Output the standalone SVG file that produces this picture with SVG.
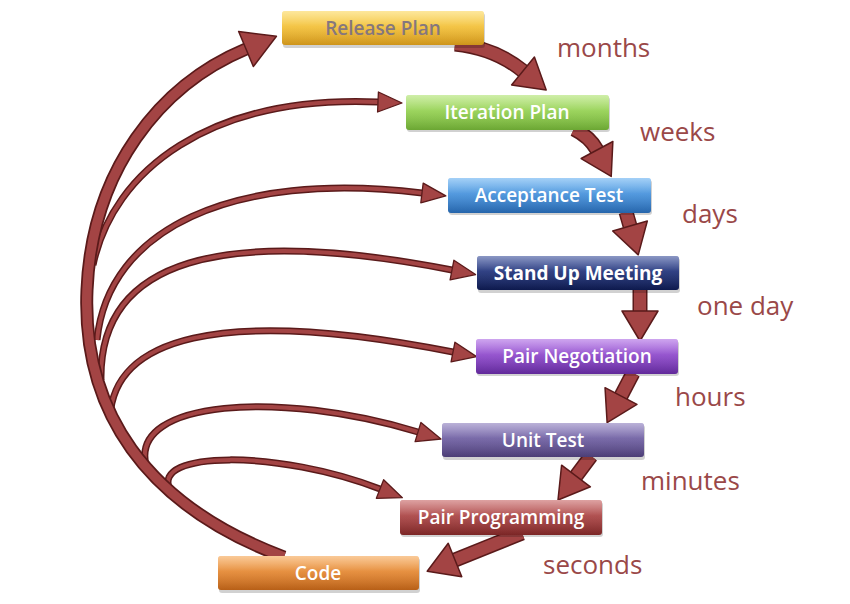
<svg xmlns="http://www.w3.org/2000/svg" width="850" height="604" viewBox="0 0 850 604">
<defs>
<style>
.lbl{font-family:"Open Sans","Liberation Sans",sans-serif;font-size:26px;fill:#9a4848}
.nt{font-family:"Open Sans","Liberation Sans",sans-serif;font-size:19px;font-weight:600;fill:#ffffff;text-anchor:middle}
.hl{fill:url(#hl)}
.sh{fill:#000;opacity:0.18}
.ol{fill:none;stroke:#5a1a1a;stroke-linecap:butt}
.fl{fill:none;stroke:#a34444;stroke-linecap:butt}
</style>
<linearGradient id="hl" x1="0" y1="0" x2="0" y2="1">
<stop offset="0" stop-color="#fff" stop-opacity="0.45"/>
<stop offset="0.45" stop-color="#fff" stop-opacity="0.08"/>
<stop offset="1" stop-color="#000" stop-opacity="0.12"/>
</linearGradient>
<linearGradient id="gY" x1="0" y1="0" x2="0" y2="1"><stop offset="0" stop-color="#fbd44c"/><stop offset="1" stop-color="#e9a81e"/></linearGradient>
<linearGradient id="gG" x1="0" y1="0" x2="0" y2="1"><stop offset="0" stop-color="#a8e062"/><stop offset="1" stop-color="#7abd3a"/></linearGradient>
<linearGradient id="gB" x1="0" y1="0" x2="0" y2="1"><stop offset="0" stop-color="#5aaaf0"/><stop offset="1" stop-color="#2a72c2"/></linearGradient>
<linearGradient id="gN" x1="0" y1="0" x2="0" y2="1"><stop offset="0" stop-color="#2c4294"/><stop offset="1" stop-color="#0f1d58"/></linearGradient>
<linearGradient id="gP" x1="0" y1="0" x2="0" y2="1"><stop offset="0" stop-color="#a65ce2"/><stop offset="1" stop-color="#6e2eae"/></linearGradient>
<linearGradient id="gU" x1="0" y1="0" x2="0" y2="1"><stop offset="0" stop-color="#8272b8"/><stop offset="1" stop-color="#564686"/></linearGradient>
<linearGradient id="gR" x1="0" y1="0" x2="0" y2="1"><stop offset="0" stop-color="#c25656"/><stop offset="1" stop-color="#8c2b2b"/></linearGradient>
<linearGradient id="gO" x1="0" y1="0" x2="0" y2="1"><stop offset="0" stop-color="#f59e44"/><stop offset="1" stop-color="#d06c1a"/></linearGradient>
<marker id="hBig" markerUnits="userSpaceOnUse" markerWidth="40" markerHeight="44" refX="1" refY="21" orient="auto" overflow="visible">
<path d="M1,2 L34,21 L1,40 Z" fill="#a34444" stroke="#5a1a1a" stroke-width="1.5" stroke-linejoin="round"/>
</marker>
<marker id="hChain" markerUnits="userSpaceOnUse" markerWidth="36" markerHeight="40" refX="1" refY="19" orient="auto" overflow="visible">
<path d="M1,1 L31,19 L1,37 Z" fill="#a34444" stroke="#5a1a1a" stroke-width="1.5" stroke-linejoin="round"/>
</marker>
<marker id="hThin" markerUnits="userSpaceOnUse" markerWidth="28" markerHeight="24" refX="1" refY="11" orient="auto" overflow="visible">
<path d="M1,1 L25,11 L1,21 Z" fill="#a34444" stroke="#5a1a1a" stroke-width="1.3" stroke-linejoin="round"/>
</marker>
</defs>
<rect width="850" height="604" fill="#ffffff"/>

<g id="connectors">
<path class="ol" stroke-width="7" d="M93,265 C113,170 210,95 378,102"/>
<path class="fl" stroke-width="4" d="M93,265 C113,170 210,95 378,102" marker-end="url(#hThin)"/>
<path class="ol" stroke-width="7" d="M97,340 C108,230 230,170 422,193"/>
<path class="fl" stroke-width="4" d="M97,340 C108,230 230,170 422,193" marker-end="url(#hThin)"/>
<path class="ol" stroke-width="7" d="M101,380 C99,260 220,225 452,270"/>
<path class="fl" stroke-width="4" d="M101,380 C99,260 220,225 452,270" marker-end="url(#hThin)"/>
<path class="ol" stroke-width="7" d="M110,418 C113,340 215,305 453,352"/>
<path class="fl" stroke-width="4" d="M110,418 C113,340 215,305 453,352" marker-end="url(#hThin)"/>
<path class="ol" stroke-width="7" d="M146,465 C130,400 280,390 418,432"/>
<path class="fl" stroke-width="4" d="M146,465 C130,400 280,390 418,432" marker-end="url(#hThin)"/>
<path class="ol" stroke-width="7" d="M170,490 C150,450 280,450 380,489"/>
<path class="fl" stroke-width="4" d="M170,490 C150,450 280,450 380,489" marker-end="url(#hThin)"/>
<path class="ol" stroke-width="13" d="M284,557 C145,505 82,410 87,290 C92,170 160,85 246,49"/>
<path class="fl" stroke-width="9.5" d="M284,557 C145,505 82,410 87,290 C92,170 160,85 246,49" marker-end="url(#hBig)"/>
<path class="ol" stroke-width="15" d="M455,44 Q495,48 523,71"/>
<path class="fl" stroke-width="12" d="M455,44 Q495,48 523,71" marker-end="url(#hChain)"/>
<path class="ol" stroke-width="15" d="M574,129 Q590,137 597,150"/>
<path class="fl" stroke-width="12" d="M574,129 Q590,137 597,150" marker-end="url(#hChain)"/>
<path class="ol" stroke-width="15" d="M626,212 L630,226"/>
<path class="fl" stroke-width="12" d="M626,212 L630,226" marker-end="url(#hChain)"/>
<path class="ol" stroke-width="15" d="M640,289 L640,311"/>
<path class="fl" stroke-width="12" d="M640,289 L640,311" marker-end="url(#hChain)"/>
<path class="ol" stroke-width="15" d="M633,373 L621,396"/>
<path class="fl" stroke-width="12" d="M633,373 L621,396" marker-end="url(#hChain)"/>
<path class="ol" stroke-width="15" d="M591,456 L576,476"/>
<path class="fl" stroke-width="12" d="M591,456 L576,476" marker-end="url(#hChain)"/>
<path class="ol" stroke-width="15" d="M522,533 Q487,547 455,560"/>
<path class="fl" stroke-width="12" d="M522,533 Q487,547 455,560" marker-end="url(#hChain)"/>
</g>

<g id="node-release-plan">
<rect class="sh" x="283" y="13" width="202" height="35" rx="3"/>
<rect x="282" y="11" width="202" height="34" rx="3" fill="url(#gY)"/>
<rect class="hl" x="282" y="11" width="202" height="34" rx="3"/>
<text class="nt" x="383" y="35" style="fill:#85777e">Release Plan</text>
</g>
<g id="node-iteration-plan">
<rect class="sh" x="407" y="97" width="203" height="35" rx="3"/>
<rect x="406" y="95" width="203" height="35" rx="3" fill="url(#gG)"/>
<rect class="hl" x="406" y="95" width="203" height="35" rx="3"/>
<text class="nt" x="507" y="119">Iteration Plan</text>
</g>
<g id="node-acceptance-test">
<rect class="sh" x="449" y="180" width="203" height="35" rx="3"/>
<rect x="448" y="178" width="203" height="35" rx="3" fill="url(#gB)"/>
<rect class="hl" x="448" y="178" width="203" height="35" rx="3"/>
<text class="nt" x="549" y="202">Acceptance Test</text>
</g>
<g id="node-stand-up-meeting">
<rect class="sh" x="478" y="258" width="202" height="35" rx="3"/>
<rect x="477" y="256" width="202" height="34" rx="3" fill="url(#gN)"/>
<rect class="hl" x="477" y="256" width="202" height="34" rx="3"/>
<text class="nt" x="578" y="280" style="font-weight:700">Stand Up Meeting</text>
</g>
<g id="node-pair-negotiation">
<rect class="sh" x="477" y="341" width="202" height="35" rx="3"/>
<rect x="476" y="339" width="202" height="35" rx="3" fill="url(#gP)"/>
<rect class="hl" x="476" y="339" width="202" height="35" rx="3"/>
<text class="nt" x="577" y="363">Pair Negotiation</text>
</g>
<g id="node-unit-test">
<rect class="sh" x="443" y="425" width="202" height="35" rx="3"/>
<rect x="442" y="423" width="202" height="34" rx="3" fill="url(#gU)"/>
<rect class="hl" x="442" y="423" width="202" height="34" rx="3"/>
<text class="nt" x="543" y="447">Unit Test</text>
</g>
<g id="node-pair-programming">
<rect class="sh" x="401" y="502" width="202" height="35" rx="3"/>
<rect x="400" y="500" width="202" height="35" rx="3" fill="url(#gR)"/>
<rect class="hl" x="400" y="500" width="202" height="35" rx="3"/>
<text class="nt" x="501" y="524">Pair Programming</text>
</g>
<g id="node-code">
<rect class="sh" x="219" y="558" width="201" height="35" rx="3"/>
<rect x="218" y="556" width="201" height="34" rx="3" fill="url(#gO)"/>
<rect class="hl" x="218" y="556" width="201" height="34" rx="3"/>
<text class="nt" x="318" y="580">Code</text>
</g>

<g id="labels">
<text class="lbl" x="557" y="57">months</text>
<text class="lbl" x="640" y="141">weeks</text>
<text class="lbl" x="682" y="223">days</text>
<text class="lbl" x="697" y="315">one day</text>
<text class="lbl" x="675" y="406">hours</text>
<text class="lbl" x="641" y="490">minutes</text>
<text class="lbl" x="543" y="574">seconds</text>
</g>
</svg>
